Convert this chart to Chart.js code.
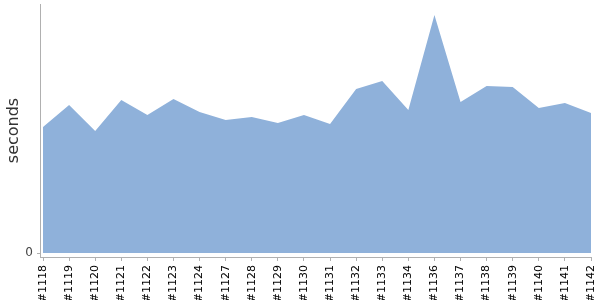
<!DOCTYPE html>
<html>
<head>
<meta charset="utf-8">
<script src="https://cdn.jsdelivr.net/npm/chart.js@4/dist/chart.umd.min.js"></script>
<style>
  html, body { margin: 0; padding: 0; background: #fff; }
  #wrap { width: 600px; height: 300px; }
</style>
</head>
<body>
<div id="wrap"><canvas id="buildChart"></canvas></div>
<script>
// Build numbers on the x axis (1125, 1126 and 1135 are missing in the source)
const builds = ["#1118", "#1119", "#1120", "#1121", "#1122", "#1123", "#1124",
  "#1127", "#1128", "#1129", "#1130", "#1131", "#1132", "#1133", "#1134",
  "#1136", "#1137", "#1138", "#1139", "#1140", "#1141", "#1142"];

// Build duration, in seconds
const durations = [126, 148, 122, 153, 138, 154, 141, 133, 136, 130, 138,
  129, 164, 172, 143, 238, 151, 167, 166, 145, 150, 140];

// Only the zero tick is labelled on the y axis
const yTicks = [0];

const points = durations.map((v, i) => ({ x: i, y: v }));
const axisGrey = "#b0b0b0";

new Chart(document.getElementById("buildChart"), {
  type: "line",
  data: {
    datasets: [{
      data: points,
      fill: "origin",
      backgroundColor: "rgb(143,177,218)",
      borderWidth: 0,
      pointRadius: 0,
      tension: 0
    }]
  },
  options: {
    responsive: true,
    maintainAspectRatio: false,
    animation: false,
    layout: { padding: { top: 4, right: 9, left: 0, bottom: 0 } },
    plugins: { legend: { display: false }, tooltip: { enabled: false } },
    scales: {
      x: {
        type: "linear",
        min: -0.115,
        max: builds.length - 1,
        afterBuildTicks: scale => {
          scale.ticks = builds.map((b, i) => ({ value: i }));
        },
        afterFit: scale => {
          scale.height = 43;
          scale.paddingLeft = 0;
          scale.paddingRight = 0;
        },
        border: { color: axisGrey },
        grid: { drawOnChartArea: false, drawTicks: true, tickLength: 4, color: axisGrey },
        ticks: {
          minRotation: 90,
          maxRotation: 90,
          autoSkip: false,
          padding: 4,
          color: "#000",
          font: { family: "DejaVu Sans", size: 11 },
          callback: v => builds[v]
        }
      },
      y: {
        min: -4,
        max: 249,
        afterBuildTicks: scale => {
          scale.ticks = yTicks.map(v => ({ value: v }));
        },
        afterFit: scale => {
          scale.width = 40;
          scale.paddingTop = 0;
          scale.paddingBottom = 0;
        },
        border: { color: axisGrey },
        grid: { drawOnChartArea: false, drawTicks: true, tickLength: 3, color: axisGrey },
        title: {
          display: true,
          text: "seconds",
          color: "#333",
          padding: { top: 4, bottom: 4 },
          font: { family: "DejaVu Sans", size: 16 }
        },
        ticks: {
          color: "#444",
          padding: 4,
          font: { family: "DejaVu Sans", size: 12 }
        }
      }
    }
  }
});
</script>
</body>
</html>
